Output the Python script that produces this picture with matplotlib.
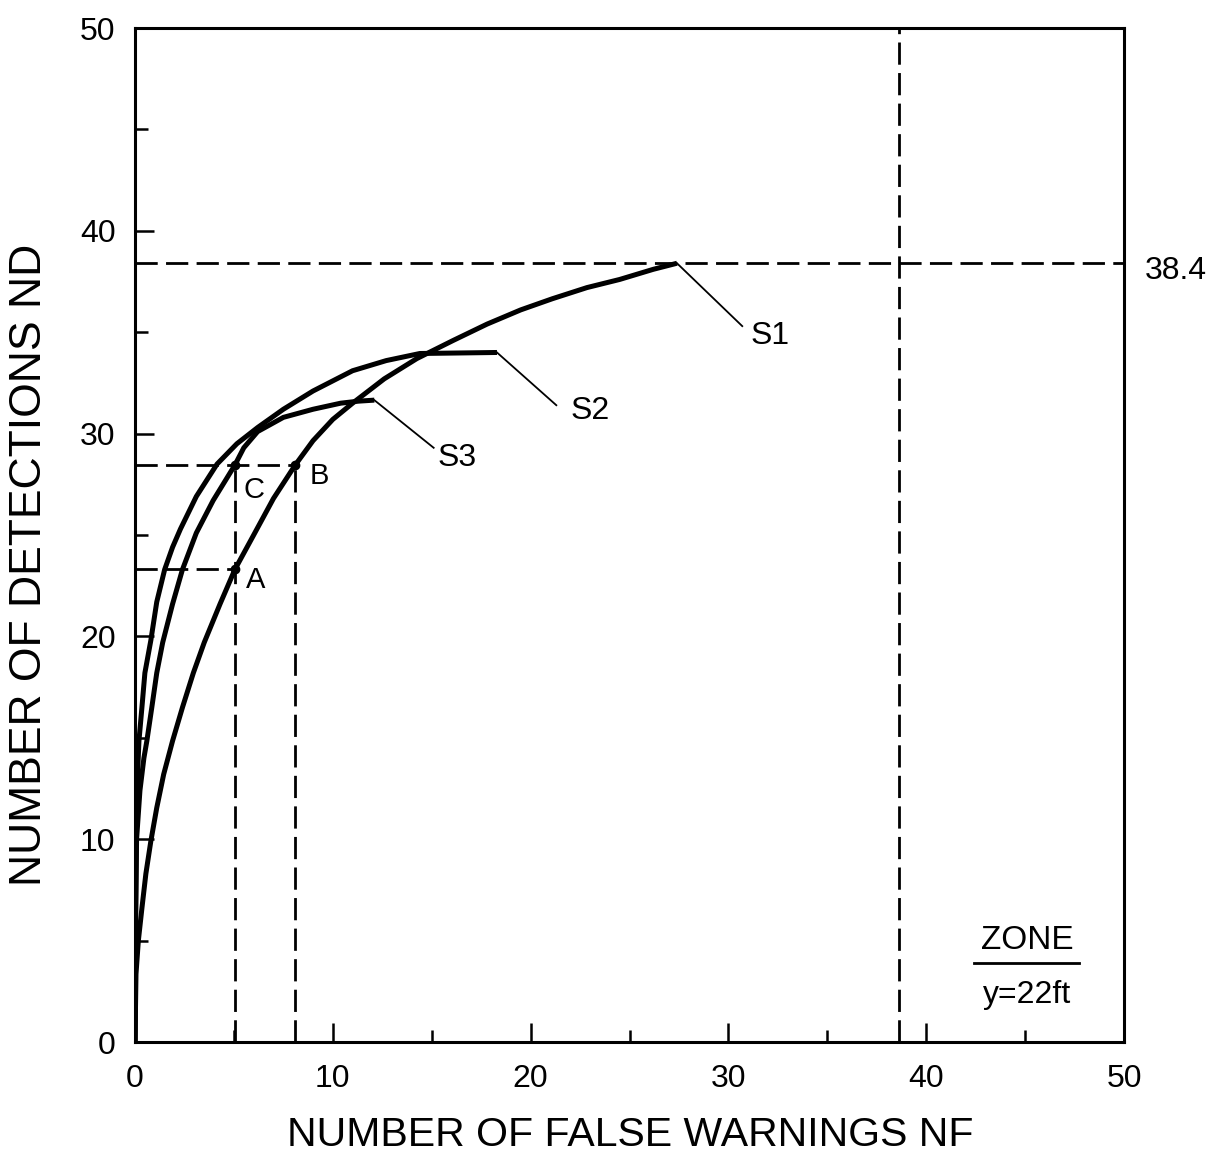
import matplotlib
matplotlib.use('Agg')
import matplotlib.pyplot as plt

plt.rcParams['font.family'] = ['Liberation Sans', 'DejaVu Sans']

# curves (NF, ND)
s1_nf = [0, 0.05, 0.17, 0.35, 0.55, 0.8, 1.1, 1.45, 1.9, 2.4, 2.95, 3.5, 4.3, 5.05, 6.0, 7.0, 8.1,
         9.0, 10.0, 11.0, 12.6, 14.25, 16.1, 17.8, 19.5, 21.1, 22.85, 24.5, 26.2, 27.4]
s1_nd = [0, 3.35, 5.0, 6.6, 8.3, 9.9, 11.55, 13.2, 14.85, 16.5, 18.2, 19.7, 21.6, 23.3, 25.0, 26.8, 28.45,
         29.65, 30.7, 31.5, 32.7, 33.7, 34.6, 35.4, 36.1, 36.65, 37.2, 37.6, 38.1, 38.4]

s2_nf = [0, 0.02, 0.06, 0.12, 0.2, 0.35, 0.5, 0.8, 1.1, 1.5, 1.9, 2.3, 3.1, 4.15, 5.15, 6.2, 7.5, 9.0, 10.2,
         11.0, 12.7, 14.4, 18.3]
s2_nd = [0, 5.0, 10.0, 13.0, 14.85, 16.5, 18.2, 19.8, 21.7, 23.3, 24.4, 25.3, 26.9, 28.5, 29.5, 30.3, 31.2, 32.1, 32.7,
         33.1, 33.6, 33.95, 34.0]

s3_nf = [0, 0.02, 0.08, 0.25, 0.45, 0.6, 0.85, 1.1, 1.4, 1.9, 2.4, 3.1, 3.95, 5.05, 5.5, 6.2, 7.5, 9.0, 10.4,
         11.3, 12.1]
s3_nd = [0, 5.0, 10.0, 12.4, 14.0, 14.85, 16.5, 18.2, 19.7, 21.6, 23.3, 25.1, 26.7, 28.45, 29.3, 30.1, 30.8, 31.2, 31.5,
         31.6, 31.65]

# marked points
pt_names = ['A', 'B', 'C']
pt_nf = [5.05, 8.1, 5.05]
pt_nd = [23.3, 28.45, 28.45]

nd_max = 38.4
nf_max = 38.6

fig = plt.figure(figsize=(12.17, 11.67), dpi=100)
ax = fig.add_axes([135 / 1217, 1 - 1042 / 1167, (1124 - 135) / 1217, (1042 - 28) / 1167])

dash = (0, (8, 3))
dkw = dict(color='black', lw=2, linestyle=dash)

# dashed guide lines
ax.plot([0, 50], [nd_max, nd_max], **dkw)
ax.plot([nf_max, nf_max], [0, 50], **dkw)
ax.plot([0, pt_nf[1]], [pt_nd[1], pt_nd[1]], **dkw)
ax.plot([0, pt_nf[0]], [pt_nd[0], pt_nd[0]], **dkw)
ax.plot([pt_nf[2], pt_nf[2]], [0, pt_nd[2]], **dkw)
ax.plot([pt_nf[1], pt_nf[1]], [0, pt_nd[1]], **dkw)

# curves
ckw = dict(color='black', lw=3.6, solid_capstyle='butt', solid_joinstyle='round')
ax.plot(s1_nf, s1_nd, **ckw)
ax.plot(s2_nf, s2_nd, **ckw)
ax.plot(s3_nf, s3_nd, **ckw)

ax.plot(pt_nf, pt_nd, 'o', color='black', ms=6)
ax.text(6.0, 27.2, 'C', fontsize=21, ha='center', va='center')
ax.text(9.3, 27.9, 'B', fontsize=21, ha='center', va='center')
ax.text(6.1, 22.8, 'A', fontsize=21, ha='center', va='center')

# leaders and curve names
lkw = dict(color='black', lw=1.3)
ax.plot([s1_nf[-1], 30.7], [s1_nd[-1], 35.3], **lkw)
ax.plot([s2_nf[-1], 21.3], [s2_nd[-1], 31.4], **lkw)
ax.plot([s3_nf[-1], 15.1], [s3_nd[-1], 29.3], **lkw)
ax.text(31.1, 34.8, 'S1', fontsize=23, ha='left', va='center')
ax.text(22.0, 31.1, 'S2', fontsize=23, ha='left', va='center')
ax.text(15.3, 28.8, 'S3', fontsize=23, ha='left', va='center')

ax.text(52.6, 38.0, '38.4', fontsize=23, ha='center', va='center', clip_on=False)

# zone box text
ax.text(45.1, 5.0, 'ZONE', fontsize=24, ha='center', va='center')
ax.plot([42.4, 47.7], [3.9, 3.9], color='black', lw=2)
ax.text(45.1, 2.3, 'y=22ft', fontsize=23, ha='center', va='center')

ax.set_xlim(0, 50)
ax.set_ylim(0, 50)
ax.set_xticks(range(0, 51, 10))
ax.set_yticks(range(0, 51, 10))
ax.set_xticks(range(5, 50, 10), minor=True)
ax.set_yticks(range(5, 50, 10), minor=True)
ax.tick_params(which='major', direction='in', length=14, width=1.8, labelsize=23)
ax.tick_params(which='minor', direction='in', length=9, width=1.8)
ax.tick_params(axis='x', which='major', pad=16)
ax.tick_params(axis='y', which='major', pad=14)
for s in ax.spines.values():
    s.set_linewidth(2.2)

fig.text(630 / 1217, 1 - 1135 / 1167, 'NUMBER OF FALSE WARNINGS NF', fontsize=29.5,
         ha='center', va='center')
fig.text(30 / 1217, 1 - 565 / 1167, 'NUMBER OF DETECTIONS ND', fontsize=32,
         ha='center', va='center', rotation=90)

fig.savefig('out.png', dpi=100)
